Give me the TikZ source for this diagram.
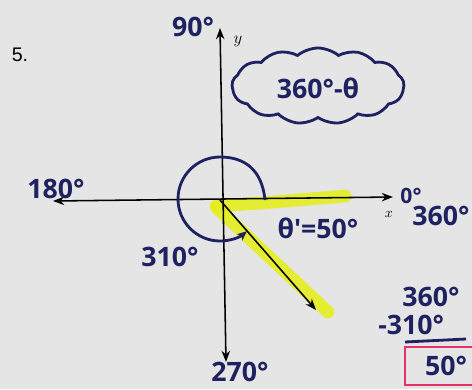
\documentclass[tikz,border=0pt]{standalone}
\usepackage{fontspec}
\setmainfont{Liberation Sans}
\newfontfamily\handfont{Open Sans}
\usetikzlibrary{shapes.symbols, arrows.meta}
\definecolor{ink}{RGB}{30,34,96}
\definecolor{paper}{RGB}{229,229,229}
\definecolor{marker}{RGB}{228,238,30}
\definecolor{pinkink}{RGB}{226,50,106}
\tikzset{
  hand/.style={font=\handfont\bfseries\fontsize{19}{19}\selectfont, text=ink, inner sep=0pt},
  small hand/.style={font=\handfont\bfseries\fontsize{15}{15}\selectfont, text=ink, inner sep=0pt},
  axis/.style={line width=1.1pt, black},
  highlight/.style={line width=9pt, marker, line cap=round, opacity=0.9},
  pen/.style={line width=2pt, ink}
}
\begin{document}
\begin{tikzpicture}[x=0.025cm, y=-0.025cm, >={Stealth[length=8pt, width=6pt]}]
    % --- Feuille (fond gris) ---
    \path[use as bounding box, fill=paper] (0,0) rectangle (472,389);

    % Origine et extremites des axes
    \coordinate (O) at (220,200);
    \coordinate (xl) at (53,201);
    \coordinate (xr) at (393,197);
    \coordinate (yt) at (220,28);
    \coordinate (yb) at (226,362);
    \coordinate (P) at (316,310);

    % --- Surligneur jaune ---
    \draw[highlight] (216,206) -- (262,203) -- (345,196);
    \draw[highlight] (217,208) -- (328,312);

    % --- Axes ---
    \draw[axis, <->] (xl) -- (xr);
    \draw[axis, <->] (yb) -- (yt);
    \node[font=\large, inner sep=0pt] (ylab) at (238,42) {$y$};
    \node[font=\normalsize, inner sep=0pt] (xlab) at (389,214) {$x$};

    % --- Cote terminal a 310 degres ---
    \draw[axis, ->] (O) -- (P);

    % --- Rotation de 310 degres ---
    \draw[pen, -{Stealth[length=7pt, width=6pt]}] (265,200) .. controls (262,170) and (245,157) .. (220,157)
        arc[start angle=-90, end angle=-310, radius=42];

    % --- Etiquettes des angles ---
    \node[font=\fontsize{14}{14}\selectfont, inner sep=0pt] (num) at (20,55) {5.};
    \node[hand] (lab90) at (193,27) {90°};
    \node[hand] (lab180) at (56,189) {180°};
    \node[small hand] (lab0) at (411,196) {0°};
    \node[hand] (lab360) at (441,216) {360°};
    \node[hand] (lab270) at (240,372) {270°};
    \node[hand] (lab310) at (170,257) {310°};
    \node[hand] (labref) at (318,228) {θ'=50°};

    % --- Formule dans le nuage ---
    \node[cloud, draw=ink, line width=2pt, cloud puffs=13, cloud puff arc=80,
        cloud ignores aspect, minimum width=4.3cm, minimum height=1.9cm] (bubble) at (318,86) {};
    \node[hand] (formula) at (318,88) {360°-θ};

    % --- Calcul 360 - 310 ---
    \node[hand] (calcA) at (431,297) {360°};
    \node[hand, anchor=west] (calcB) at (378,325) {-310°};
    \draw[pen] (405,342) -- (466,339);
    \draw[line width=2pt, pinkink] (405,347) rectangle (482,385);
    \node[hand] (calcC) at (446,366) {50°};
\end{tikzpicture}
\end{document}
